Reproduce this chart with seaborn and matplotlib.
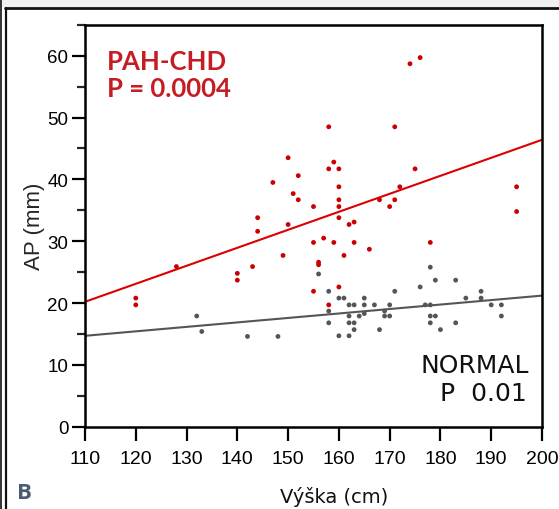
import numpy as np
import pandas as pd
import matplotlib
matplotlib.use("Agg")
import matplotlib.pyplot as plt
from matplotlib.lines import Line2D
from matplotlib.patches import Rectangle
import seaborn as sns

# ---------------- data ----------------
pah_height = [120, 120, 128, 140, 140, 143, 144, 144, 147, 149, 150, 150, 151, 152, 152,
              155, 155, 155, 156, 156, 157, 158, 158, 158, 159, 159, 160, 160, 160, 160,
              160, 160, 161, 162, 163, 163, 166, 168, 171, 171, 170, 172, 174, 176, 175,
              178, 195, 195]
pah_ap = [20.8, 19.7, 25.9, 24.8, 23.7, 25.9, 33.8, 31.6, 39.5, 27.7, 43.5, 32.7, 37.7, 40.6, 36.7,
          35.6, 29.8, 21.9, 26.6, 26.2, 30.5, 48.5, 41.7, 19.7, 42.8, 29.8, 41.7, 38.8, 36.7, 35.6,
          33.8, 22.6, 27.7, 32.7, 33.1, 29.8, 28.7, 36.7, 48.5, 36.7, 35.6, 38.8, 58.7, 59.7, 41.7,
          29.8, 38.8, 34.8]

normal_height = [132, 133, 142, 148, 156, 158, 158, 158, 160, 160, 161, 162, 162, 162, 162,
                 163, 163, 163, 164, 165, 165, 165, 167, 168, 169, 169, 170, 170, 171, 176,
                 177, 178, 178, 178, 178, 179, 179, 180, 183, 183, 185, 188, 188, 190, 192, 192]
normal_ap = [17.9, 15.4, 14.6, 14.6, 24.7, 21.9, 18.7, 16.8, 20.8, 14.7, 20.8, 19.7, 17.9, 16.8, 14.7,
             19.7, 16.8, 15.7, 17.9, 20.8, 19.7, 18.3, 19.7, 15.7, 18.7, 17.9, 19.7, 17.9, 21.9, 22.6,
             19.7, 25.8, 19.7, 17.9, 16.8, 23.7, 17.9, 15.7, 23.7, 16.8, 20.8, 21.9, 20.8, 19.7, 19.7, 17.9]

# regression lines (at x = 110 and x = 200)
fit_x = [110, 200]
pah_fit = [20.2, 46.4]
normal_fit = [14.7, 21.2]

x_ticks = [110, 120, 130, 140, 150, 160, 170, 180, 190, 200]
y_ticks = [0, 10, 20, 30, 40, 50, 60]
y_minor = [5, 15, 25, 35, 45, 55, 65]

groups = ["PAH-CHD", "NORMAL"]

# ---------------- frame ----------------
sns.set_style("ticks", {"axes.spines.top": True, "axes.spines.right": True})
plt.rcParams["font.family"] = ["Liberation Sans", "DejaVu Sans"]

W, H = 559, 510
fig = plt.figure(figsize=(W / 100, H / 100), dpi=100)
fig.patch.set_facecolor("white")

def fx(px):
    return px / W

def fy(py):
    return 1 - py / H

# outer decorations
fig.add_artist(Rectangle((0, fy(8)), 1, 1 - fy(8), transform=fig.transFigure,
                         facecolor="#f0f0f0", edgecolor="none", zorder=0))
fig.add_artist(Line2D([fx(5), 1], [fy(9), fy(9)], transform=fig.transFigure,
                      color="#111111", lw=2.0))
fig.add_artist(Line2D([fx(6), fx(6)], [fy(9), 0], transform=fig.transFigure,
                      color="#111111", lw=1.6))
fig.add_artist(Line2D([fx(0.7), fx(0.7)], [1, 0], transform=fig.transFigure,
                      color="#111111", lw=1.2))

ax_l, ax_r, ax_t, ax_b = 85, 542, 25.8, 427.7
ax = fig.add_axes([fx(ax_l), fy(ax_b), (ax_r - ax_l) / W, (ax_b - ax_t) / H])

df = pd.DataFrame({
    "height": pah_height + normal_height,
    "ap": pah_ap + normal_ap,
    "group": [groups[0]] * len(pah_height) + [groups[1]] * len(normal_height),
})
palette = {"PAH-CHD": "#cc0000", "NORMAL": "#555555"}

sns.lineplot(x=fit_x, y=normal_fit, color="#555555", lw=1.5, ax=ax, zorder=2)
sns.lineplot(x=fit_x, y=pah_fit, color="#dd0000", lw=1.5, ax=ax, zorder=2)
sns.scatterplot(data=df, x="height", y="ap", hue="group", palette=palette,
                s=12, linewidth=0, legend=False, ax=ax, zorder=3)

ax.set_xlim(110, 200)
ax.set_ylim(0, 65)
ax.set_xticks(x_ticks)
ax.set_xticklabels([str(v) for v in x_ticks])
ax.set_yticks(y_ticks)
ax.set_yticklabels([str(v) for v in y_ticks])
ax.set_yticks(y_minor, minor=True)

for name in ["left", "bottom", "top", "right"]:
    sp = ax.spines[name]
    sp.set_visible(True)
    sp.set_linewidth(1.8)
    sp.set_edgecolor("black")
    sp.set_zorder(5)

ax.tick_params(axis="y", which="major", length=9.5, width=1.6, labelsize=13.5,
               pad=2.5, colors="black", direction="out")
ax.tick_params(axis="y", which="minor", length=5.8, width=1.6, direction="out")
ax.tick_params(axis="x", which="major", length=10, width=1.6, labelsize=14,
               pad=6.5, colors="black", direction="out")

ax.set_ylabel("AP (mm)", fontsize=16, labelpad=2)
ax.set_xlabel("Výška (cm)", fontsize=14, family=["DejaVu Sans"], color="#111111")
ax.xaxis.set_label_coords((334 - ax_l) / (ax_r - ax_l), -0.148)

red_text = "#c41e24"
ax.text(0.048, 0.890, "PAH-CHD", transform=ax.transAxes, color=red_text,
        fontsize=18.5, fontweight="bold", family=["Lato", "DejaVu Sans"], va="baseline", ha="left")
ax.text(0.048, 0.823, "P = 0.0004", transform=ax.transAxes, color=red_text,
        fontsize=18.5, fontweight="bold", family=["Lato", "DejaVu Sans"], va="baseline", ha="left")

ax.text(0.9716, 0.136, "NORMAL", transform=ax.transAxes, color="#111111",
        fontsize=18, family=["DejaVu Sans"], va="baseline", ha="right")
ax.text(0.966, 0.067, "P  0.01", transform=ax.transAxes, color="#111111",
        fontsize=18, family=["DejaVu Sans"], va="baseline", ha="right")

fig.text(fx(17), fy(499.5), "B", color="#4b5b73", fontsize=16, fontweight="bold",
         family=["Open Sans", "DejaVu Sans"], va="baseline", ha="left")

fig.savefig("out.png", dpi=100)
